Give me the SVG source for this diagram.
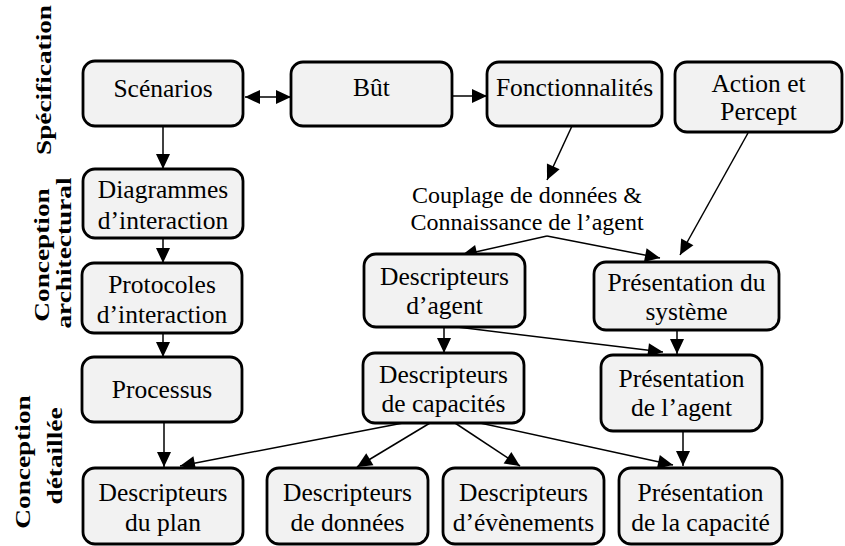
<svg xmlns="http://www.w3.org/2000/svg" width="845" height="546" viewBox="0 0 845 546" font-family="Liberation Serif, serif">
  <defs>
    <!-- filled arrowhead, tip at the origin pointing along +x -->
    <path id="head" d="M0,0 L-15,-7 L-15,7 Z" fill="#000"/>
  </defs>
  <style>
    .box { fill: #f2f2f2; stroke: #000; stroke-width: 2.8; }
    .lbl { font-family: 'Liberation Serif', serif; font-size: 25.5px; fill: #000; text-anchor: middle; }
    .note { font-family: 'Liberation Serif', serif; font-size: 24px; fill: #000; text-anchor: middle; }
    .phase { font-family: 'Liberation Serif', serif; font-size: 21px; font-weight: bold; fill: #000; text-anchor: middle; }
    .edge { fill: none; stroke: #000; stroke-width: 1.5; }
  </style>
  <rect width="845" height="546" fill="#fff"/>

  <!-- phase labels (rotated, stretched along the reading direction) -->
  <g id="phase-specification">
    <text class="phase" font-family="Liberation Serif" transform="translate(51,80) rotate(-90) scale(1.3,1)">Spécification</text>
  </g>
  <g id="phase-architectural">
    <text class="phase" font-family="Liberation Serif" transform="translate(49,255) rotate(-90) scale(1.3,1)">Conception</text>
    <text class="phase" font-family="Liberation Serif" transform="translate(71,253) rotate(-90) scale(1.3,1)">architectural</text>
  </g>
  <g id="phase-detaillee">
    <text class="phase" font-family="Liberation Serif" transform="translate(30,462) rotate(-90) scale(1.3,1)">Conception</text>
    <text class="phase" font-family="Liberation Serif" transform="translate(62,456) rotate(-90) scale(1.3,1)">détaillée</text>
  </g>

  <!-- connectors -->
  <g id="connectors">
    <line class="edge" x1="245" y1="97" x2="291" y2="97"/>
    <use href="#head" transform="translate(245,97) rotate(180)"/>
    <use href="#head" transform="translate(291,97)"/>
    <line class="edge" x1="452" y1="96" x2="487" y2="96"/>
    <use href="#head" transform="translate(487,96)"/>
    <line class="edge" x1="163" y1="126" x2="163" y2="169"/>
    <use href="#head" transform="translate(163,169) rotate(90)"/>
    <line class="edge" x1="163" y1="238" x2="163" y2="263"/>
    <use href="#head" transform="translate(163,263) rotate(90)"/>
    <line class="edge" x1="163" y1="333" x2="163" y2="357"/>
    <use href="#head" transform="translate(163,357) rotate(90)"/>
    <line class="edge" x1="164" y1="422" x2="164" y2="467"/>
    <use href="#head" transform="translate(164,467) rotate(90)"/>
    <line class="edge" x1="572" y1="126" x2="547" y2="180"/>
    <use href="#head" transform="translate(547,180) rotate(114.8)"/>
    <line class="edge" x1="748" y1="133" x2="680" y2="255"/>
    <use href="#head" transform="translate(680,255) rotate(119.1)"/>
    <line class="edge" x1="547" y1="236" x2="462" y2="255"/>
    <use href="#head" transform="translate(462,255) rotate(167.4)"/>
    <line class="edge" x1="547" y1="236" x2="660" y2="258"/>
    <use href="#head" transform="translate(660,258) rotate(11)"/>
    <line class="edge" x1="444" y1="327" x2="444" y2="353"/>
    <use href="#head" transform="translate(444,353) rotate(90)"/>
    <line class="edge" x1="457" y1="327" x2="663" y2="352"/>
    <use href="#head" transform="translate(663,352) rotate(6.9)"/>
    <line class="edge" x1="677" y1="330" x2="677" y2="354"/>
    <use href="#head" transform="translate(677,354) rotate(90)"/>
    <line class="edge" x1="403" y1="423" x2="180" y2="466"/>
    <use href="#head" transform="translate(180,466) rotate(169.1)"/>
    <line class="edge" x1="430" y1="423" x2="357" y2="467"/>
    <use href="#head" transform="translate(357,467) rotate(148.9)"/>
    <line class="edge" x1="455" y1="423" x2="520" y2="466"/>
    <use href="#head" transform="translate(520,466) rotate(33.5)"/>
    <line class="edge" x1="480" y1="423" x2="673" y2="465"/>
    <use href="#head" transform="translate(673,465) rotate(12.3)"/>
    <line class="edge" x1="683" y1="431" x2="683" y2="466"/>
    <use href="#head" transform="translate(683,466) rotate(90)"/>
  </g>

  <!-- free-standing note between the specification and architecture rows -->
  <g id="couplage">
    <text class="note" font-family="Liberation Serif" x="527" y="203">Couplage de données &amp;</text>
    <text class="note" font-family="Liberation Serif" x="527" y="230">Connaissance de l’agent</text>
  </g>

  <!-- specification row -->
  <g id="scenarios">
    <rect class="box" x="83" y="61" width="160" height="65" rx="12"/>
    <text class="lbl" font-family="Liberation Serif" x="163" y="97">Scénarios</text>
  </g>
  <g id="but">
    <rect class="box" x="291" y="62" width="161" height="64" rx="12"/>
    <text class="lbl" font-family="Liberation Serif" x="371.5" y="96">Bût</text>
  </g>
  <g id="fonctionnalites">
    <rect class="box" x="487" y="62" width="175" height="64" rx="12"/>
    <text class="lbl" font-family="Liberation Serif" x="574.5" y="96">Fonctionnalités</text>
  </g>
  <g id="action-percept">
    <rect class="box" x="675" y="62" width="167" height="70" rx="12"/>
    <text class="lbl" font-family="Liberation Serif" x="758.5" y="92">Action et</text>
    <text class="lbl" font-family="Liberation Serif" x="758.5" y="120">Percept</text>
  </g>

  <!-- left column -->
  <g id="diagrammes">
    <rect class="box" x="83" y="169" width="160" height="69" rx="12"/>
    <text class="lbl" font-family="Liberation Serif" x="163" y="198">Diagrammes</text>
    <text class="lbl" font-family="Liberation Serif" x="163" y="229">d’interaction</text>
  </g>
  <g id="protocoles">
    <rect class="box" x="82" y="263" width="160" height="70" rx="12"/>
    <text class="lbl" font-family="Liberation Serif" x="162" y="293">Protocoles</text>
    <text class="lbl" font-family="Liberation Serif" x="162" y="323">d’interaction</text>
  </g>
  <g id="processus">
    <rect class="box" x="82" y="357" width="160" height="65" rx="12"/>
    <text class="lbl" font-family="Liberation Serif" x="162" y="398">Processus</text>
  </g>

  <!-- architecture row -->
  <g id="descripteurs-agent">
    <rect class="box" x="364" y="254" width="161" height="73" rx="12"/>
    <text class="lbl" font-family="Liberation Serif" x="444.5" y="285">Descripteurs</text>
    <text class="lbl" font-family="Liberation Serif" x="444.5" y="314">d’agent</text>
  </g>
  <g id="presentation-systeme">
    <rect class="box" x="594" y="262" width="185" height="68" rx="12"/>
    <text class="lbl" font-family="Liberation Serif" x="686.5" y="291">Présentation du</text>
    <text class="lbl" font-family="Liberation Serif" x="686.5" y="320">système</text>
  </g>

  <!-- detailed design middle row -->
  <g id="descripteurs-capacites">
    <rect class="box" x="363" y="353" width="161" height="70" rx="12"/>
    <text class="lbl" font-family="Liberation Serif" x="443.5" y="383">Descripteurs</text>
    <text class="lbl" font-family="Liberation Serif" x="443.5" y="412">de capacités</text>
  </g>
  <g id="presentation-agent">
    <rect class="box" x="601" y="355" width="161" height="76" rx="12"/>
    <text class="lbl" font-family="Liberation Serif" x="681.5" y="387">Présentation</text>
    <text class="lbl" font-family="Liberation Serif" x="681.5" y="416">de l’agent</text>
  </g>

  <!-- bottom row -->
  <g id="descripteurs-plan">
    <rect class="box" x="83" y="468" width="160" height="76" rx="12"/>
    <text class="lbl" font-family="Liberation Serif" x="163" y="501">Descripteurs</text>
    <text class="lbl" font-family="Liberation Serif" x="163" y="531">du plan</text>
  </g>
  <g id="descripteurs-donnees">
    <rect class="box" x="267" y="468" width="161" height="76" rx="12"/>
    <text class="lbl" font-family="Liberation Serif" x="347.5" y="501">Descripteurs</text>
    <text class="lbl" font-family="Liberation Serif" x="347.5" y="531">de données</text>
  </g>
  <g id="descripteurs-evenements">
    <rect class="box" x="443" y="468" width="161" height="76" rx="12"/>
    <text class="lbl" font-family="Liberation Serif" x="523.5" y="501">Descripteurs</text>
    <text class="lbl" font-family="Liberation Serif" x="523.5" y="531">d’évènements</text>
  </g>
  <g id="presentation-capacite">
    <rect class="box" x="619" y="468" width="163" height="76" rx="12"/>
    <text class="lbl" font-family="Liberation Serif" x="700.5" y="501">Présentation</text>
    <text class="lbl" font-family="Liberation Serif" x="700.5" y="531">de la capacité</text>
  </g>
</svg>
